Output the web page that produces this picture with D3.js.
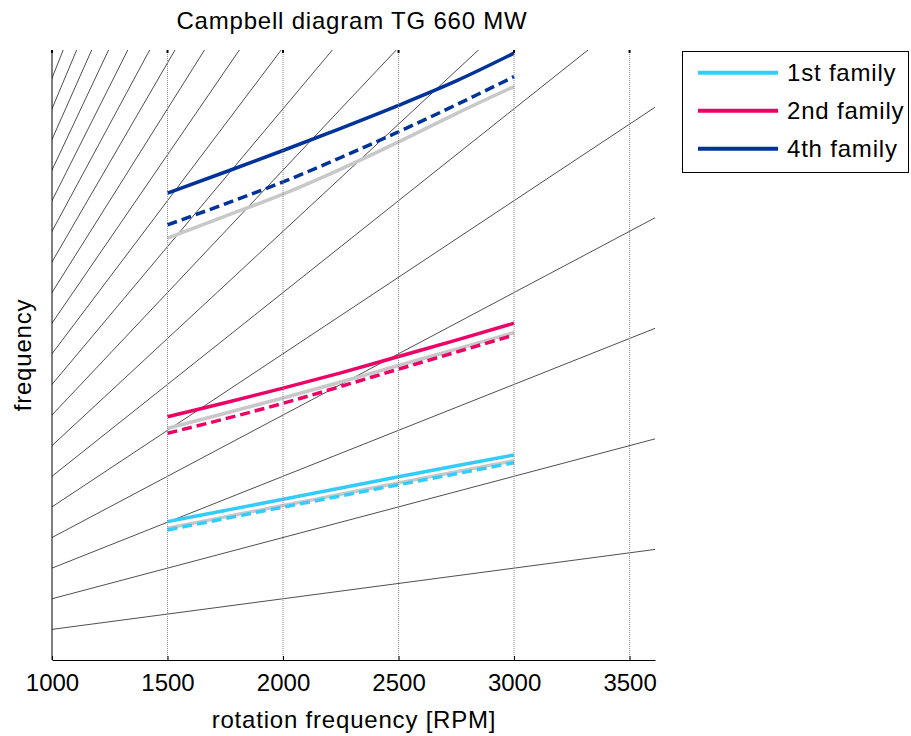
<!DOCTYPE html>
<html>
<head>
<meta charset="utf-8">
<script src="https://cdn.jsdelivr.net/npm/d3@7"></script>
<style>
  body { margin: 0; background: #fff; }
  text { font-family: "Liberation Sans", Arial, sans-serif; fill: #000; }
</style>
</head>
<body>
<script>
// speeds where the mode frequencies were sampled [RPM]
const rpm = [1500, 1750, 2000, 2250, 2500, 2750, 3000];

// natural frequencies [Hz]
const fam1Solid  = [75.3, 81.4, 87.5, 93.6, 99.7, 105.7, 111.6];
const fam1Dashed = [70.8, 77.0, 83.2, 89.3, 95.4, 101.4, 107.4];
const fam1Ref    = [71.7, 77.9, 84.1, 90.2, 96.4, 102.5, 108.5];

const fam2Solid  = [132.4, 140.0, 148.0, 156.3, 165.2, 174.1, 183.3];
const fam2Dashed = [123.4, 131.3, 139.7, 148.9, 158.3, 167.6, 176.9];
const fam2Ref    = [126.1, 134.3, 142.6, 151.3, 160.3, 169.2, 178.2];

const fam4Solid  = [254.1, 265.6, 277.3, 289.4, 301.9, 315.2, 330.3];
const fam4Dashed = [236.8, 248.3, 260.2, 273.5, 287.5, 302.2, 317.5];
const fam4Ref    = [229.6, 241.6, 253.6, 267.2, 282.0, 297.4, 312.1];

// engine orders (harmonics of running speed)
const orders = [1, 2, 3, 4, 5, 6, 7, 8, 9, 10, 11, 12, 13, 14, 15, 16, 17, 18, 19, 20];

const xTicks = [1000, 1500, 2000, 2500, 3000, 3500];
const gridTicks = [1500, 2000, 2500, 3000, 3500];

const familyNames = ['1st family', '2nd family', '4th family'];
const familyColors = ['#33ccff', '#ee0066', '#003399'];

const w = 911, h = 736;
const pLeft = 52, pRight = 655, pTop = 50, pBottom = 660;

const svg = d3.select('body')
    .append('svg')
    .attr('width', w)
    .attr('height', h);

const x = d3.scaleLinear().domain([1000, 3610]).range([pLeft, pRight]);
const y = d3.scaleLinear().domain([0, 332]).range([pBottom, pTop]);

svg.append('clipPath')
    .attr('id', 'plot')
    .append('rect')
    .attr('x', pLeft).attr('y', pTop)
    .attr('width', pRight - pLeft).attr('height', pBottom - pTop);

const plot = svg.append('g').attr('clip-path', 'url(#plot)');

// engine order lines f = k * n / 60
plot.selectAll('line.order')
    .data(orders)
    .enter()
    .append('line')
    .attr('class', 'order')
    .attr('x1', x(0)).attr('y1', y(0))
    .attr('x2', x(3610)).attr('y2', d => y(d * 3610 / 60))
    .attr('stroke', '#222')
    .attr('stroke-width', 0.8);

// vertical grid
svg.selectAll('line.grid')
    .data(gridTicks)
    .enter()
    .append('line')
    .attr('class', 'grid')
    .attr('x1', d => x(d)).attr('x2', d => x(d))
    .attr('y1', pTop).attr('y2', pBottom)
    .attr('stroke', '#888')
    .attr('stroke-width', 1)
    .attr('stroke-dasharray', '1,1');

const line = d3.line()
    .x((d, i) => x(rpm[i]))
    .y(d => y(d))
    .curve(d3.curveMonotoneX);

const refs = [fam1Ref, fam2Ref, fam4Ref];
const solids = [fam1Solid, fam2Solid, fam4Solid];
const dashed = [fam1Dashed, fam2Dashed, fam4Dashed];

plot.selectAll('path.ref')
    .data(refs)
    .enter()
    .append('path')
    .attr('class', 'ref')
    .attr('d', line)
    .attr('fill', 'none')
    .attr('stroke', '#c8c8c8')
    .attr('stroke-width', 3.5);

plot.selectAll('path.dashed')
    .data(dashed)
    .enter()
    .append('path')
    .attr('class', 'dashed')
    .attr('d', line)
    .attr('fill', 'none')
    .attr('stroke', (d, i) => familyColors[i])
    .attr('stroke-width', 3.5)
    .attr('stroke-dasharray', '10,5');

plot.selectAll('path.solid')
    .data(solids)
    .enter()
    .append('path')
    .attr('class', 'solid')
    .attr('d', line)
    .attr('fill', 'none')
    .attr('stroke', (d, i) => familyColors[i])
    .attr('stroke-width', 3.5);

// axes
const xAxis = d3.axisBottom(x)
    .tickValues(xTicks)
    .tickSizeInner(-4)
    .tickSizeOuter(0)
    .tickPadding(14)
    .tickFormat(d3.format('d'));

const gx = svg.append('g')
    .attr('transform', 'translate(0,' + pBottom + ')')
    .call(xAxis);
gx.select('.domain').attr('stroke', '#000');
gx.selectAll('.tick line').attr('stroke', '#000');
gx.selectAll('.tick text')
    .attr('font-size', 24)
    .attr('font-family', '"Liberation Sans", Arial, sans-serif')
    .attr('fill', '#000')
    .attr('dy', '0.71em');

// tick marks along the top edge
svg.selectAll('line.toptick')
    .data(xTicks)
    .enter()
    .append('line')
    .attr('class', 'toptick')
    .attr('x1', d => x(d)).attr('x2', d => x(d))
    .attr('y1', pTop).attr('y2', pTop + 3)
    .attr('stroke', '#000')
    .attr('stroke-width', 2);

svg.append('line')
    .attr('x1', pLeft).attr('x2', pLeft)
    .attr('y1', pTop).attr('y2', pBottom)
    .attr('stroke', '#000');

// labels
svg.append('text')
    .attr('x', 352).attr('y', 29)
    .attr('text-anchor', 'middle')
    .attr('font-size', 24)
    .attr('letter-spacing', 0.8)
    .text('Campbell diagram TG 660 MW');

svg.append('text')
    .attr('x', 354).attr('y', 728)
    .attr('text-anchor', 'middle')
    .attr('font-size', 24)
    .attr('letter-spacing', 0.8)
    .text('rotation frequency [RPM]');

svg.append('text')
    .attr('transform', 'translate(31,355) rotate(-90)')
    .attr('text-anchor', 'middle')
    .attr('font-size', 24)
    .attr('letter-spacing', 0.8)
    .text('frequency');

// legend
const legend = svg.append('g');
legend.append('rect')
    .attr('x', 682.5).attr('y', 51.5)
    .attr('width', 226).attr('height', 121)
    .attr('fill', '#fff')
    .attr('stroke', '#000');

const items = legend.selectAll('g.item')
    .data(familyNames)
    .enter()
    .append('g')
    .attr('class', 'item')
    .attr('transform', (d, i) => 'translate(0,' + (72.7 + i * 38) + ')');

items.append('line')
    .attr('x1', 698).attr('x2', 778)
    .attr('stroke', (d, i) => familyColors[i])
    .attr('stroke-width', 4);

items.append('text')
    .attr('x', 787).attr('y', 8.5)
    .attr('font-size', 24)
    .attr('letter-spacing', 0.8)
    .text(d => d);
</script>
</body>
</html>
